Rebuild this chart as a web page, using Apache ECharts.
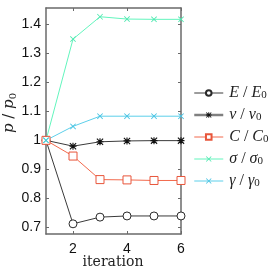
<!DOCTYPE html>
<html><head><meta charset="utf-8">
<script src="https://cdn.jsdelivr.net/npm/echarts@6/dist/echarts.min.js"></script>
<style>html,body{margin:0;padding:0;background:#fff}#c{width:274px;height:273px}</style>
</head><body><div id="c"></div>
<script>
const iterations = [1, 2, 3, 4, 5, 6];
const E_ratio = [1, 0.713, 0.736, 0.740, 0.740, 0.740];
const nu_ratio = [1, 0.980, 0.995, 0.998, 0.999, 0.999];
const C_ratio = [1, 0.946, 0.865, 0.864, 0.862, 0.862];
const sigma_ratio = [1, 1.348, 1.425, 1.417, 1.416, 1.416];
const gamma_ratio = [1, 1.048, 1.083, 1.083, 1.083, 1.083];
const yTicks = [0.7, 0.8, 0.9, 1.0, 1.1, 1.2, 1.3, 1.4];
const xTicks = [2, 4, 6];

const X_SYM = 'path://M0,1 L1,0 L5,4 L9,0 L10,1 L6,5 L10,9 L9,10 L5,6 L1,10 L0,9 L4,5 Z';
const STAR_SYM = 'path://M4.2,0 L5.8,0 L5.8,10 L4.2,10 Z M0,4.2 L10,4.2 L10,5.8 L0,5.8 Z M1.1,0 L5,3.9 L8.9,0 L10,1.1 L6.1,5 L10,8.9 L8.9,10 L5,6.1 L1.1,10 L0,8.9 L3.9,5 L0,1.1 Z';

function mk(arr){ return iterations.map((x,i)=>[x, arr[i]]); }

const chart = echarts.init(document.getElementById('c'), null, {renderer:'canvas'});
const axisCol = '#6a6a6a';
const SERIF = 'Liberation Serif';
const rich = {
  i:{fontFamily:SERIF, fontStyle:'italic', fontSize:16, color:'#222', lineHeight:16},
  n:{fontFamily:SERIF, fontSize:16, color:'#222', lineHeight:16},
  s:{fontFamily:SERIF, fontSize:11, color:'#222', lineHeight:16, verticalAlign:'bottom', padding:[8,0,0,0]}
};
const legendNames = {
  'E': '{i|E}{n| / }{i|E}{s|0}',
  'nu': '{i|ν}{n| / }{i|ν}{s|0}',
  'C': '{i|C}{n| / }{i|C}{s|0}',
  'sigma': '{i|σ}{n| / }{i|σ}{s|0}',
  'gamma': '{i|γ}{n| / }{i|γ}{s|0}'
};
function ser(name, data, color, symbol, size, symColor, empty){
  return {
    name, type:'line', data: mk(data), xAxisIndex:0, yAxisIndex:0,
    symbol, symbolSize:size, showAllSymbol:true, clip:false,
    lineStyle:{color, width:1},
    itemStyle: empty ? {color:'#fff', borderColor:symColor, borderWidth:1} : {color:symColor, borderWidth:0},
    color: color, emphasis:{disabled:true}, animation:false
  };
}
chart.setOption({
  animation:false,
  grid:{left:46, right:93, top:8, bottom:39},
  xAxis:[
    {type:'value', min:1, max:6, position:'bottom',
     axisLine:{show:true, onZero:false, lineStyle:{color:axisCol, width:1.5}},
     axisTick:{show:true, inside:true, length:3, customValues:xTicks, lineStyle:{color:axisCol}},
     axisLabel:{customValues:xTicks, fontFamily:'Liberation Sans', fontSize:14, color:'#111', margin:8},
     splitLine:{show:false}},
    {type:'value', min:1, max:6, position:'top',
     axisLine:{show:true, onZero:false, lineStyle:{color:axisCol, width:1.5}},
     axisTick:{show:true, inside:true, length:3, customValues:xTicks, lineStyle:{color:axisCol}},
     axisLabel:{show:false}, splitLine:{show:false}}
  ],
  yAxis:[
    {type:'value', min:0.678, max:1.455, position:'left',
     axisLine:{show:true, onZero:false, lineStyle:{color:axisCol, width:1.5}},
     axisTick:{show:true, inside:true, length:3, customValues:yTicks, lineStyle:{color:axisCol}},
     axisLabel:{customValues:yTicks, fontFamily:'Liberation Sans', fontSize:14, color:'#111', margin:5,
       formatter:v=>{ const r=Math.round(v*10)/10; return r===1?'1':r.toFixed(1);} },
     splitLine:{show:false}},
    {type:'value', min:0.678, max:1.455, position:'right',
     axisLine:{show:true, onZero:false, lineStyle:{color:axisCol, width:1.5}},
     axisTick:{show:true, inside:true, length:3, customValues:yTicks, lineStyle:{color:axisCol}},
     axisLabel:{show:false}, splitLine:{show:false}}
  ],
  legend:{
    orient:'vertical', left:193, top:82, padding:0, itemWidth:29, itemHeight:7, itemGap:3,
    data:[
      {name:'E'},
      {name:'nu', lineStyle:{color:'#808080', width:2.5}},
      {name:'C'},
      {name:'sigma'},
      {name:'gamma'}
    ],
    lineStyle:{width:1},
    formatter:n=>legendNames[n],
    textStyle:{rich, padding:[0,0,0,1]},
    selectedMode:false
  },
  series:[
    ser('E', E_ratio, '#3a3a3a', 'circle', 8, '#2a2a2a', true),
    ser('nu', nu_ratio, '#3a3a3a', STAR_SYM, 7, '#111', false),
    ser('C', C_ratio, '#f2694c', 'rect', 8, '#e8553a', true),
    ser('sigma', sigma_ratio, '#62f5bd', X_SYM, 6, '#4ee8b0', false),
    ser('gamma', gamma_ratio, '#5ccfea', X_SYM, 6, '#45c2e2', false)
  ],
  graphic:[
    {type:'text', x:113, y:262, style:{text:'iteration', fontFamily:'DejaVu Serif', fontSize:14, fill:'#222', align:'center', verticalAlign:'middle'}},
    {type:'text', x:9, y:113, rotation:Math.PI/2,
     style:{text:'{i|p}{n| / }{i|p}{s|0}', rich:{
       i:{fontFamily:'DejaVu Serif', fontStyle:'italic', fontSize:15, fill:'#222', color:'#222'},
       n:{fontFamily:'DejaVu Serif', fontSize:15, fill:'#222', color:'#222'},
       s:{fontFamily:'DejaVu Serif', fontSize:10, fill:'#222', color:'#222', verticalAlign:'bottom', padding:[8,0,0,0]}},
       align:'center', verticalAlign:'middle'}}
  ]
});
</script></body></html>
